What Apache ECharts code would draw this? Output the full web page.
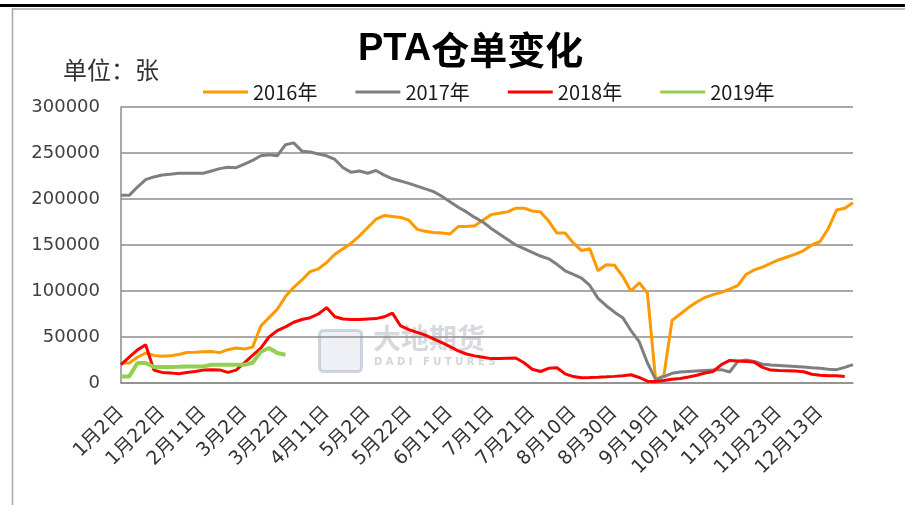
<!DOCTYPE html>
<html><head><meta charset="utf-8">
<script src="https://cdn.jsdelivr.net/npm/echarts@6/dist/echarts.min.js"></script>
<style>html,body{margin:0;padding:0;background:#fff}#c{width:905px;height:505px}</style>
</head><body><div id="c"></div>
<script>
const categories = [
'1月2日','1月6日','1月10日','1月14日','1月18日',
'1月22日','1月26日','1月30日','2月3日','2月7日',
'2月11日','2月15日','2月19日','2月23日','2月27日',
'3月2日','3月6日','3月10日','3月14日','3月18日',
'3月22日','3月26日','3月30日','4月3日','4月7日',
'4月11日','4月15日','4月19日','4月23日','4月27日',
'5月2日','5月6日','5月10日','5月14日','5月18日',
'5月22日','5月26日','5月30日','6月3日','6月7日',
'6月11日','6月15日','6月19日','6月23日','6月27日',
'7月1日','7月5日','7月9日','7月13日','7月17日',
'7月21日','7月25日','7月29日','8月2日','8月6日',
'8月10日','8月14日','8月18日','8月22日','8月26日',
'8月30日','9月3日','9月7日','9月11日','9月15日',
'9月19日','9月23日','9月27日','10月8日','10月11日',
'10月14日','10月18日','10月22日','10月26日','10月30日',
'11月3日','11月7日','11月11日','11月15日','11月19日',
'11月23日','11月27日','12月1日','12月5日','12月9日',
'12月13日','12月17日','12月21日','12月25日','12月29日'
];
const seriesNames = ['2016年','2017年','2018年','2019年'];
const s2016 = [
21700,21700,28000,32600,30000,29000,29500,31000,33200,33500,
34000,34300,33000,36200,38000,37000,39000,62000,71000,80000,
94000,104000,112000,121000,124000,131000,140000,146000,152000,160000,
169000,178000,182000,181000,180000,177000,167000,165000,163500,163000,
162000,170000,170000,171000,177000,183000,184500,186000,190000,190000,
187000,186000,176000,163000,163000,152000,144000,146000,122000,128500,
128000,116000,100000,109000,98000,3600,8000,68000,75000,82000,
88000,93000,96000,98500,102000,106000,118000,123000,126000,130000,
134000,137000,140000,144000,150000,153800,168000,188000,190000,196000
];
const s2017 = [
204000,204000,213000,221000,224000,226000,227000,228000,228000,228000,
228000,230500,233000,234500,234000,238000,242000,247000,248000,247000,
259000,261000,252000,251000,249000,247000,243000,234000,229000,230500,
228000,231000,226000,222000,219500,217000,214000,211000,208000,203000,
197000,191000,186000,180000,175000,168000,162000,156000,150000,146000,
142000,138000,135000,129000,122000,118000,114000,106000,92000,84000,
77000,71000,57000,45000,22000,4000,7000,10500,12000,12500,
13000,13500,14000,14500,12000,23500,25000,23500,20500,19500,
19000,18500,18000,17500,16500,16000,15000,14500,17000,20000
];
const s2018 = [
20000,28000,36000,41600,14000,11500,11000,10000,11500,12600,
14000,14400,14200,11500,14000,22000,30000,38000,50000,57000,
61000,66000,69000,71000,75000,82000,72000,69500,69000,69000,
69500,70000,72000,76000,62000,58000,55000,52000,48000,44000,
39500,35000,31500,29500,28000,26500,26500,27000,27100,22000,
15000,12500,16000,16500,10000,7000,5800,6000,6300,6700,
7200,8000,9000,6000,2000,1700,2800,4000,5000,6500,
8500,10800,12600,20000,24500,24000,23500,22500,17000,14000,
13600,13400,13000,12200,9500,8500,8000,7900,7000
];
const s2019 = [
7200,7200,21700,21700,17400,17400,17500,17600,17800,18000,
18000,19900,19900,19900,19900,19900,22000,34000,38000,32600,30700
];
const yTicks = [0,50000,100000,150000,200000,250000,300000];

const labelFont = "'DejaVu Sans', 'Noto Sans CJK SC', sans-serif";
const chart = echarts.init(document.getElementById('c'), null, {renderer:'canvas'});
const colors = ['#FF9900','#7F7F7F','#FF0000','#92D050'];
const data = [s2016, s2017, s2018, s2019];
chart.setOption({
  animation: false,
  backgroundColor: '#fff',
  color: colors,
  title: {
    text: '{a|PTA}{b|仓单变化}',
    left: 353, top: 26,
    textStyle: { rich: {
      a: {fontSize: 38, fontWeight: 'bold', fontFamily: "'Liberation Sans', Arial, sans-serif", color: '#000'},
      b: {fontSize: 38, fontWeight: 'bold', fontFamily: "'Noto Sans CJK SC', sans-serif", color: '#000'}
    }}
  },
  legend: {
    data: seriesNames, left: 198, top: 77,
    icon: 'rect', itemWidth: 45, itemHeight: 3, itemGap: 38,
    textStyle: {fontSize: 20, color: '#1a1a1a', fontFamily: "'Noto Sans CJK SC', sans-serif"}
  },
  grid: {left: 121, right: 52, top: 107, bottom: 122, containLabel: false},
  xAxis: {
    type: 'category', data: categories, boundaryGap: false,
    axisLine: {lineStyle: {color: '#8c8c8c', width: 1.5}},
    axisTick: {show: false},
    axisLabel: {interval: 4, rotate: 45, margin: 27, fontSize: 19, color: '#333', fontFamily: labelFont}
  },
  yAxis: {
    type: 'value', min: yTicks[0], max: yTicks[yTicks.length-1], interval: yTicks[1]-yTicks[0],
    axisLine: {show: true, lineStyle: {color: '#8c8c8c', width: 1.5}},
    axisTick: {show: false},
    axisLabel: {margin: 21, fontSize: 18, color: '#404040', fontFamily: labelFont, formatter: v => String(v)},
    splitLine: {lineStyle: {color: '#8c8c8c', width: 1.5}}
  },
  graphic: [
    {type: 'rect', z: 100, shape: {x: 0, y: 4, width: 905, height: 3}, style: {fill: '#000'}},
    {type: 'line', z: 100, shape: {x1: 12.5, y1: 8, x2: 12.5, y2: 505}, style: {stroke: '#a6a6a6', lineWidth: 1.5}},
    {type: 'line', z: 100, shape: {x1: 12, y1: 9, x2: 905, y2: 9}, style: {stroke: '#a6a6a6', lineWidth: 1.5}},
    {type: 'text', left: 63, top: 58, style: {text: '单位：张', font: "24px 'Noto Sans CJK SC'", fill: '#333'}},
    {type: 'rect', z: 0, left: 318, top: 329, shape: {width: 42, height: 41, r: 4}, style: {fill: 'rgba(205,212,225,0.35)', stroke: 'rgba(170,182,200,0.55)', lineWidth: 3}},
    {type: 'text', z: 0, left: 373, top: 324, style: {text: '大地期货', font: "bold 28px 'Noto Sans CJK SC'", fill: 'rgba(165,172,185,0.45)'}},
    {type: 'text', z: 0, left: 374, top: 357, style: {text: 'D A D I   F U T U R E S', font: "bold 10px 'DejaVu Sans'", fill: 'rgba(165,172,185,0.5)'}}
  ],
  series: seriesNames.map((n, k) => ({
    name: n, type: 'line', data: data[k], showSymbol: false, symbol: 'none',
    lineStyle: {width: k === 3 ? 4 : 3, color: colors[k]}, z: 2 + k
  }))
});
</script></body></html>
